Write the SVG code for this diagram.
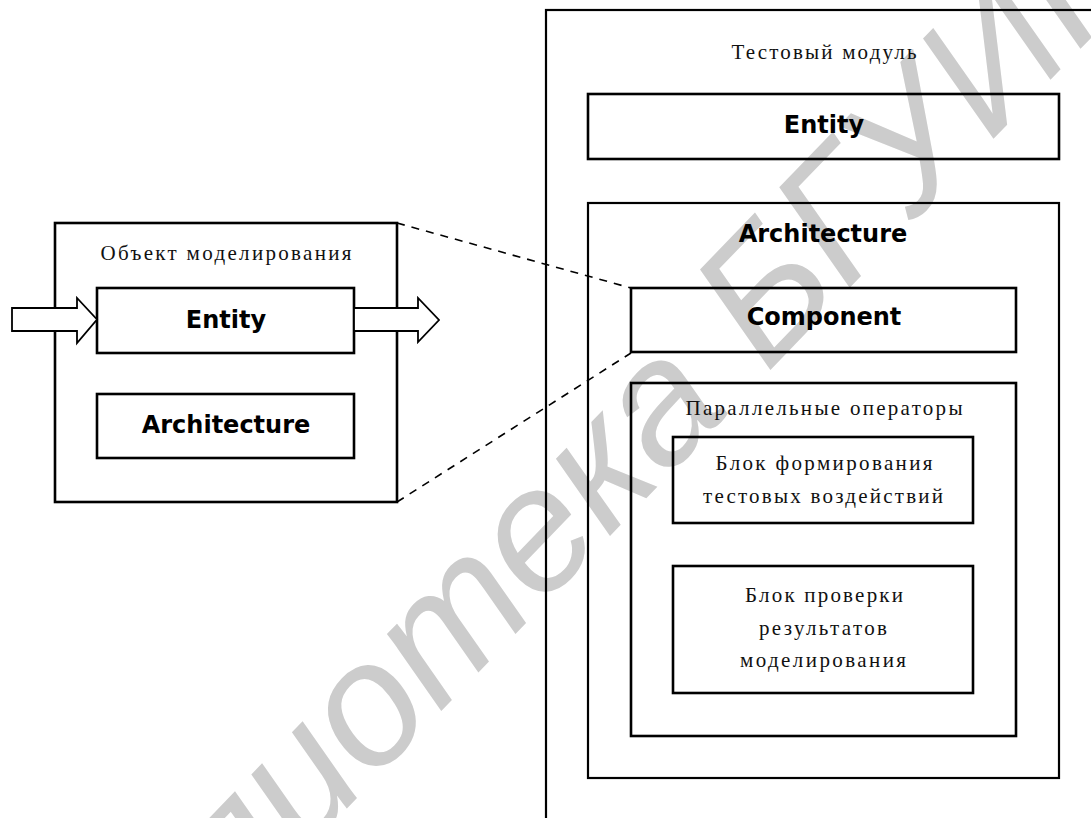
<svg xmlns="http://www.w3.org/2000/svg" width="1091" height="818" viewBox="0 0 1091 818">
<style>
.box{fill:none;stroke:#000;stroke-width:2.6}
.outer{fill:none;stroke:#000;stroke-width:2.2}
.bold{font-family:"DejaVu Sans","Verdana",sans-serif;font-weight:bold;font-size:24px;fill:#000;text-anchor:middle}
.ser{font-family:"Liberation Serif","Times New Roman",serif;font-size:21px;fill:#111;text-anchor:middle}
.dash{fill:none;stroke:#000;stroke-width:1.6;stroke-dasharray:8 7}
.arr{fill:#fff;stroke:#000;stroke-width:1.8;stroke-linejoin:miter}
.wm{font-family:"Liberation Sans",Arial,sans-serif;font-style:italic;font-size:175px;fill:#cccccc}
</style>
<rect width="1091" height="818" fill="#fff"/>
<text class="wm" transform="translate(23,1144) rotate(-46)">Библиотека БГУИР</text>

<g id="object">
<rect class="box" x="55" y="223" width="342" height="279"/>
<text class="ser" x="226" y="260" textLength="251" lengthAdjust="spacing">Объект моделирования</text>
</g>
<g id="entity-left">
<rect class="box" x="97" y="288" width="257" height="65"/>
<text class="bold" x="226" y="328">Entity</text>
</g>
<g id="architecture-left">
<rect class="box" x="97" y="394" width="257" height="64"/>
<text class="bold" x="226" y="433">Architecture</text>
</g>

<g id="test-module">
<rect class="outer" x="546" y="10" width="700" height="900"/>
<text class="ser" x="824" y="59" textLength="185" lengthAdjust="spacing">Тестовый модуль</text>
</g>
<g id="entity-right">
<rect class="box" x="588" y="94" width="471" height="65"/>
<text class="bold" x="824" y="133">Entity</text>
</g>
<g id="architecture-right">
<rect class="outer" x="588" y="203" width="471" height="575"/>
<text class="bold" x="823" y="242">Architecture</text>
</g>
<g id="component">
<rect class="box" x="631" y="288" width="385" height="64"/>
<text class="bold" x="824" y="325">Component</text>
</g>
<g id="parallel">
<rect class="box" x="631" y="383" width="385" height="353"/>
<text class="ser" x="824" y="415" textLength="277" lengthAdjust="spacing">Параллельные операторы</text>
</g>
<g id="block-stimulus">
<rect class="box" x="673" y="437" width="300" height="86"/>
<text class="ser" x="824" y="470" textLength="217" lengthAdjust="spacing">Блок формирования</text>
<text class="ser" x="823" y="503" textLength="240" lengthAdjust="spacing">тестовых воздействий</text>
</g>
<g id="block-check">
<rect class="box" x="673" y="566" width="300" height="127"/>
<text class="ser" x="824" y="602" textLength="158" lengthAdjust="spacing">Блок проверки</text>
<text class="ser" x="823" y="635" textLength="128" lengthAdjust="spacing">результатов</text>
<text class="ser" x="823" y="667" textLength="166" lengthAdjust="spacing">моделирования</text>
</g>

<g id="connectors">
<line class="dash" x1="397" y1="223" x2="631" y2="288"/>
<line class="dash" x1="397" y1="502" x2="631" y2="353"/>
<polygon class="arr" points="12,308 77,308 77,298 97,319.5 77,343 77,331 12,331"/>
<polygon class="arr" points="354,308 418,308 418,298 439,320 418,342 418,331 354,331"/>
</g>
</svg>
